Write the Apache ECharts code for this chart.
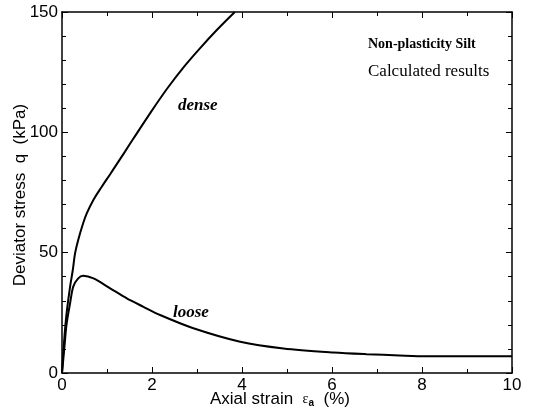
<!DOCTYPE html>
<html>
<head>
<meta charset="utf-8">
<script src="https://cdn.jsdelivr.net/npm/echarts@6/dist/echarts.min.js"></script>
<style>html,body{margin:0;padding:0;background:#fff}#c{width:534px;height:412px}</style>
</head>
<body>
<div id="c"></div>
<script>
// Axial strain (%) and deviator stress q (kPa)
var denseStrain = [0, 0.05, 0.10, 0.18, 0.24, 0.29, 0.36, 0.47, 0.55, 0.70, 0.88, 1.07, 1.21, 1.40, 1.58, 1.96, 2.33, 2.70, 3.07, 3.44, 3.84];
var denseQ      = [0, 14, 24.5, 35.9, 42.8, 49.7, 55.3, 62.2, 66.3, 72.0, 77.3, 82.6, 86.6, 92.0, 97.2, 108.0, 118.0, 127.0, 135.0, 142.5, 150];
var looseStrain = [0, 0.05, 0.10, 0.18, 0.25, 0.36, 0.47, 0.70, 1.07, 1.44, 1.81, 2.18, 2.92, 3.96, 4.92, 6.03, 6.77, 7.5, 8.1, 9.0, 10];
var looseQ      = [0, 10, 20, 29, 35.9, 39.3, 40.4, 39.3, 35.2, 31.0, 27.5, 24.1, 18.6, 13.0, 10.2, 8.5, 7.8, 7.3, 7.0, 7.0, 7.0];
var xTicks = [0, 2, 4, 6, 8, 10];
var yTicks = [0, 50, 100, 150];

function pairs(xs, ys){ return xs.map(function(x,i){return [x, ys[i]];}); }

var chart = echarts.init(document.getElementById('c'), null, {renderer:'canvas'});
var axisFont = {fontFamily:'Liberation Sans, Arial, sans-serif', fontSize:17, color:'#000'};
var baseX = {
  type:'value', min:0, max:10, interval:2,
  axisLine:{show:true, onZero:false, lineStyle:{color:'#000', width:1.5}},
  axisTick:{show:true, inside:true, length:6, lineStyle:{color:'#000'}},
  minorTick:{show:true, splitNumber:2, length:4, lineStyle:{color:'#000'}},
  splitLine:{show:false}
};
var baseY = {
  type:'value', min:0, max:150, interval:50,
  axisLine:{show:true, onZero:false, lineStyle:{color:'#000', width:1.5}},
  axisTick:{show:true, inside:true, length:6, lineStyle:{color:'#000'}},
  minorTick:{show:true, splitNumber:5, length:4, lineStyle:{color:'#000'}},
  splitLine:{show:false}
};
chart.setOption({
  animation:false,
  backgroundColor:'#fff',
  grid:{left:62, right:22, top:12, bottom:39},
  xAxis:[
    Object.assign({}, baseX, {position:'bottom', axisLabel:Object.assign({margin:4, formatter:function(v){return xTicks.indexOf(v)>=0?String(v):'';}}, axisFont)}),
    Object.assign({}, baseX, {position:'top', axisLabel:{show:false}})
  ],
  yAxis:[
    Object.assign({}, baseY, {position:'left', axisLabel:Object.assign({margin:4, formatter:function(v){return yTicks.indexOf(v)>=0?String(v):'';}}, axisFont)}),
    Object.assign({}, baseY, {position:'right', axisLabel:{show:false}})
  ],
  series:[
    {type:'line', name:'dense', data:pairs(denseStrain, denseQ), smooth:0.35, showSymbol:false, clip:true,
     lineStyle:{color:'#000', width:2}},
    {type:'line', name:'loose', data:pairs(looseStrain, looseQ), smooth:0.3, showSymbol:false, clip:true,
     lineStyle:{color:'#000', width:2}}
  ],
  graphic:[
    {type:'text', left:368, top:37, style:{text:'Non-plasticity Silt', font:'bold 14px "Liberation Serif", "Times New Roman", serif', fill:'#000'}},
    {type:'text', left:368, top:63, style:{text:'Calculated results', font:'17px "Liberation Serif", "Times New Roman", serif', fill:'#000'}},
    {type:'text', left:178, top:97, style:{text:'dense', font:'italic bold 17px "Liberation Serif", "Times New Roman", serif', fill:'#000'}},
    {type:'text', left:173, top:304, style:{text:'loose', font:'italic bold 17px "Liberation Serif", "Times New Roman", serif', fill:'#000'}},
    {type:'text', left:210, top:391, style:{
      text:'Axial strain  {e|ε}{s|a}  (%)',
      font:'17px "Liberation Sans", Arial, sans-serif', fill:'#000',
      rich:{e:{fontSize:14, fontFamily:'Liberation Serif'}, s:{fontSize:10, fontWeight:'bold', padding:[8,0,0,0]}}
    }},
    {type:'text', x:12, y:195, rotation:Math.PI/2, style:{
      text:'Deviator stress  q  (kPa)', align:'center', verticalAlign:'top',
      font:'17px "Liberation Sans", Arial, sans-serif', fill:'#000'
    }}
  ]
});
</script>
</body>
</html>
